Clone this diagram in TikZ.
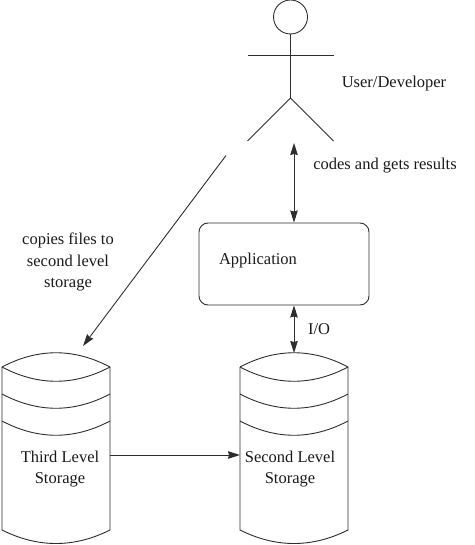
\documentclass[tikz,border=0pt]{standalone}
\usepackage{fontspec}
\setmainfont{Liberation Serif}
\usepackage{xcolor}
\usetikzlibrary{arrows.meta, positioning, calc}
\definecolor{linegray}{RGB}{45,45,45}
\tikzset{every node/.append style={align=center}}
\tikzset{
  app/.style={rectangle, draw=linegray, rounded corners=9pt, line width=0.9pt,
    minimum width=170, minimum height=82},
  head/.style={circle, draw=linegray, line width=0.9pt, minimum size=34, inner sep=0pt},
  lbl/.style={font=\fontsize{16.5}{21.5}\selectfont, text=black!90, inner sep=0pt},
  arrow/.style={-{Stealth[length=12pt,width=7.5pt,inset=1pt]}, line width=0.9pt, linegray},
  both/.style={{Stealth[length=12pt,width=7.5pt,inset=1pt]}-{Stealth[length=12pt,width=7.5pt,inset=1pt]}, line width=0.9pt, linegray},
  stick/.style={line width=0.9pt, linegray},
  drum/.pic={
    \coordinate (-top) at (0,-95);
    \coordinate (-left) at (-54,7);
    \coordinate (-right) at (54,7);
    \draw[stick] (-54,-81) .. controls (-18,-100) and (18,-100) .. (54,-81);
    \draw[stick] (-54,-81) .. controls (-18,-62) and (18,-62) .. (54,-81);
    \draw[stick] (-54,-54) .. controls (-18,-35) and (18,-35) .. (54,-54);
    \draw[stick] (-54,-27) .. controls (-18,-8) and (18,-8) .. (54,-27);
    \draw[stick] (-54,-81) -- (-54,82) .. controls (-18,100) and (18,100) .. (54,82) -- (54,-81);
  }
}
\begin{document}
\begin{tikzpicture}[x=1pt, y=-1pt]
  \useasboundingbox (0,0) rectangle (474,545);
  % user
  \node[head] (head) at (290.5,17) {};
  \coordinate (hip) at (290.5,98);
  \coordinate (armL) at (247.5,55.5);
  \coordinate (armR) at (333.5,55.5);
  \coordinate (legL) at (247.5,141);
  \coordinate (legR) at (333.5,141);
  \draw[stick] (head.south) -- (hip);
  \draw[stick] (armL) -- (armR);
  \draw[stick] (legL) -- (hip) -- (legR);
  \node[lbl] (user) at (394,84) {User/Developer};
  % storage
  \pic (third) at (56,448) {drum};
  \pic (second) at (294,448) {drum};
  \node[lbl] (thirdtxt) at (60,469) {Third Level\\Storage};
  \node[lbl] (secondtxt) at (290,469) {Second Level\\Storage};
  % application
  \node[app] (app) at (284,264) {};
  \node[lbl] (apptxt) at (258,261) {Application};
  \coordinate (devend) at (294,143);
  \coordinate (copystart) at (226,155.5);
  \coordinate (copyend) at (83,346);
  \draw[both] (devend) -- (app.north -| devend);
  \draw[both] (app.south -| second-top) -- (second-top);
  \draw[arrow] (copystart) -- (copyend);
  \draw[arrow] (third-right) -- (second-left);
  \node[lbl] (codes) at (385,166) {codes and gets results};
  \node[lbl] (io) at (319,329) {I/O};
  \node[lbl] (copies) at (68,262) {copies files to\\second level\\storage};
\end{tikzpicture}
\end{document}
